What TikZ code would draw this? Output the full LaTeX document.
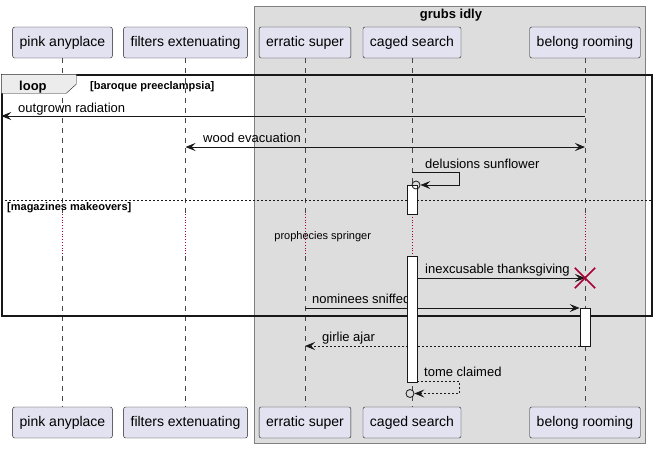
\documentclass[tikz,border=0pt]{standalone}
\usepackage{fontspec}
\setmainfont{Liberation Sans}
\usetikzlibrary{arrows.meta,positioning}
\definecolor{partfill}{HTML}{E2E2F0}
\definecolor{grpfill}{HTML}{DDDDDD}
\definecolor{ink}{HTML}{181818}
\definecolor{delay}{HTML}{A80036}
\newcommand{\msgsize}{\fontsize{13}{15}\selectfont}
\newcommand{\smallsize}{\fontsize{11}{13}\selectfont}

\begin{document}
\begin{tikzpicture}[x=1pt,y=-1pt,inner sep=0pt]
  \tikzstyle{p}=[rectangle,draw=ink,fill=partfill,rounded corners=2pt,minimum height=31pt,inner xsep=7pt,font=\fontsize{14}{16}\selectfont]
  \tikzstyle{act}=[rectangle,draw=ink,fill=white,line width=0.8pt,minimum width=10pt]
  \tikzstyle{m}=[draw=ink,line width=0.8pt,-{Stealth[length=10pt,width=8pt,inset=4pt]}]
  \tikzstyle{ret}=[m,dash pattern=on 2pt off 2pt]
  \tikzstyle{lbl}=[anchor=base west,font=\msgsize]
  \tikzstyle{ring}=[circle,draw=ink,line width=0.8pt,minimum size=8pt]
  \useasboundingbox(0,0)rectangle(657,448);
  % box around the last three
  \draw[gray,fill=grpfill](254,6)rectangle(645,443);
  \node[font=\bfseries\msgsize,anchor=base](grp)at(451,18){grubs idly};
  \foreach\n/\x/\t in{pa/62.5/pink anyplace,fe/185.5/filters extenuating,es/305/erratic super,cs/412/caged search,br/585/belong rooming}{
    \node[p](\n0)at(\x,42.5){\t};
    \node[p](\n1)at(\x,422.5){\t};
  }
  % rows
  \coordinate(d0)at(0,214);\coordinate(d1)at(0,256);\coordinate(sep)at(0,200);
  \foreach\i/\y in{1/116,2/147,3/172.7,4/278,5/308,6/346,7/381}{\coordinate(r\i)at(0,\y);}
  \foreach\n in{pa,fe,es,cs,br}{
    \draw[ink!80,dash pattern=on 5pt off 5pt](\n0.south)--(\n0|-d0);
    \draw[delay,dotted,line width=0.8pt](\n0|-d0)--(\n0|-d1);
    \draw[ink!80,dash pattern=on 5pt off 5pt](\n0|-d1)--(\n1.north);
  }
  % loop frame
  \node[draw=ink,line width=1.5pt,minimum width=650pt,minimum height=241pt](frm)at(327,195.5){};
  \draw[ink,fill=gray!15](frm.north west)--++(75,0)--++(0,10)--++(-10,9)--++(-65,0)--cycle;
  \node[font=\bfseries\msgsize,anchor=base west](lp)at(19,90.5){loop};
  \node[font=\bfseries\smallsize,anchor=base west](g1)at(90,89){[baroque preeclampsia]};
  \draw[ink,dash pattern=on 2pt off 2pt](frm.west|-sep)--(frm.east|-sep);
  \node[font=\bfseries\smallsize,anchor=base west](g2)at(7,210.5){[magazines makeovers]};
  % messages
  \draw[m](br0|-r1)--(frm.west|-r1);
  \node[lbl](l1)at(18,112){outgrown radiation};
  \draw[m,{Stealth[length=10pt,width=8pt,inset=4pt]}-{Stealth[length=10pt,width=8pt,inset=4pt]}](fe0|-r2)--(br0|-r2);
  \node[lbl](l2)at(203,142){wood evacuation};
  \node[lbl](l3)at(425,168){delusions sunflower};
  \node[font=\smallsize](l4)at(322.7,236.7){prophecies springer};
  \node[act,minimum height=38pt](a3)at(585,327){};
  \node[lbl](l6)at(312,303.5){nominees sniffed};
  \draw[m](es0|-r5)--(a3.west|-r5);
  \node[lbl](l7)at(322,341){girlie ajar};
  \draw[ret](a3.west|-r6)--(es0|-r6);
  \node[act,minimum height=29pt](a1)at(412,199.5){};
  \node[act,minimum height=126pt](a2)at(412,319){};
  \node[ring](c1)at(416,185){};
  \draw[m](cs0|-r3)--++(47,0)|-(c1.east);
  \node[minimum size=20pt](x1)at(585,278){};
  \node[lbl](l5)at(425,273.5){inexcusable thanksgiving};
  \draw[m](a2.east|-r4)--(br0|-r4);
  \draw[delay,line width=1.6pt](x1.north west)--(x1.south east)(x1.north east)--(x1.south west);
  \node[ring](c2)at(410,393.5){};
  \node[lbl](l8)at(424,376.5){tome claimed};
  \draw[ret](a2.east|-r7)--++(42,0)|-(c2.east);
\end{tikzpicture}
\end{document}
